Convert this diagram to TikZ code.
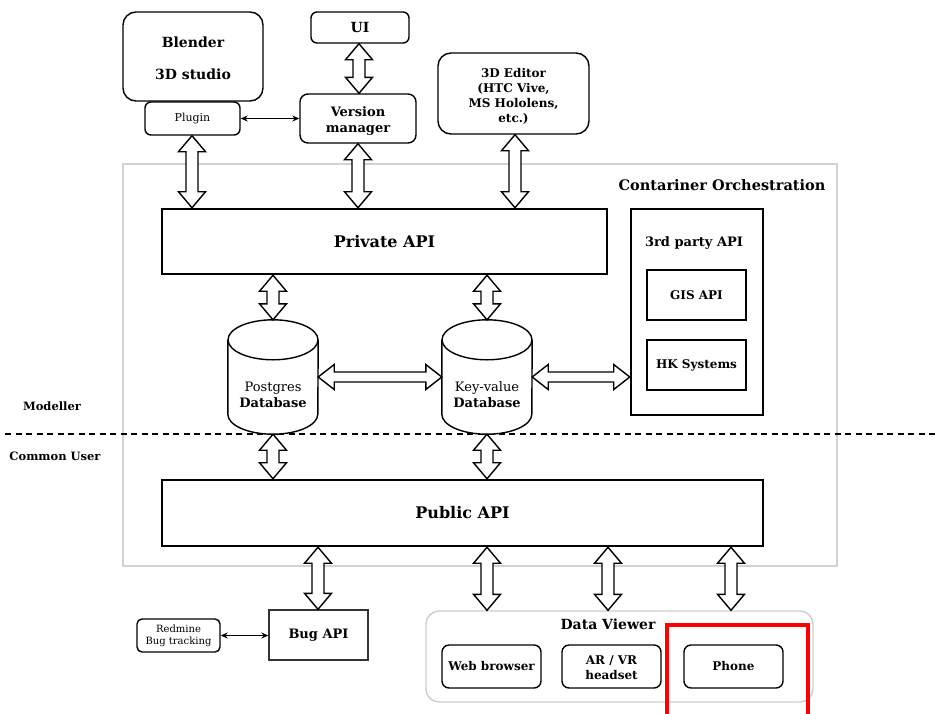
\documentclass[tikz,border=0pt]{standalone}
\usepackage{fontspec}
\setmainfont{DejaVu Serif}
\usetikzlibrary{calc,arrows.meta}

% hollow double-headed vertical arrow: x position, upper node, lower node
\newcommand\fatv[3]{%
  \draw[fat] let \p1=(#2.south), \p2=(#3.north) in
    (#1pt,\y1) -- (#1pt+13.5pt,\y1-16pt) -- (#1pt+6pt,\y1-16pt) --
    (#1pt+6pt,\y2+16pt) -- (#1pt+13.5pt,\y2+16pt) -- (#1pt,\y2) --
    (#1pt-13.5pt,\y2+16pt) -- (#1pt-6pt,\y2+16pt) --
    (#1pt-6pt,\y1-16pt) -- (#1pt-13.5pt,\y1-16pt) -- cycle;}
% hollow double-headed horizontal arrow: left node, right node
\newcommand\fath[2]{%
  \draw[fat] let \p1=(#1.east), \p2=(#2.west) in
    (\x1,\y1) -- (\x1+16pt,\y1+12.5pt) -- (\x1+16pt,\y1+5pt) --
    (\x2-16pt,\y1+5pt) -- (\x2-16pt,\y1+12.5pt) -- (\x2,\y1) --
    (\x2-16pt,\y1-12.5pt) -- (\x2-16pt,\y1-5pt) --
    (\x1+16pt,\y1-5pt) -- (\x1+16pt,\y1-12.5pt) -- cycle;}
% database cylinder drawn around a named node (width 90, height 114)
\newcommand\dbcyl[1]{%
  \draw[line width=1.4pt, fill=white]
    ([yshift=-20pt]#1.north west) -- ([yshift=20pt]#1.south west)
    arc[start angle=180, end angle=360, x radius=45pt, y radius=20pt]
    -- ([yshift=-20pt]#1.north east);
  \draw[line width=1.4pt] ([yshift=-20pt]#1.north) ellipse [x radius=45pt, y radius=20pt];}

\begin{document}
\begin{tikzpicture}[x=1pt,y=-1pt,
  box/.style={draw, line width=1.4pt, align=center, inner sep=1pt},
  rbox/.style={box, rounded corners=#1},
  heavy/.style={draw, line width=2.5pt, align=center, inner sep=1pt},
  fat/.style={draw, fill=white, line width=1.4pt, line join=miter},
  thinarrow/.style={line width=0.9pt, {Stealth[length=7pt,width=6pt]}-{Stealth[length=7pt,width=6pt]}},
  plain/.style={align=center, inner sep=0pt},
  bf/.style={font=\bfseries\fontsize{#1}{#1}\selectfont},
  rm/.style={font=\fontsize{#1}{#1}\selectfont}
]
\useasboundingbox (0,0) rectangle (939,713);

% container orchestration frame
\node[draw=gray!35, line width=1.8pt, minimum width=714, minimum height=402, inner sep=0pt]
  (orch) at (480,365) {};
\node[plain, bf=14.5] (orchlbl) at (722,185) {Contariner Orchestration};

% role separator
\draw[line width=1.4pt, dash pattern=on 6pt off 4.5pt] (5,434) coordinate (sepl) -- (939,434) coordinate (sepr);
\node[plain, bf=11.5] (modeller) at (52,406) {Modeller};
\node[plain, bf=11.5] (common) at (55,456) {Common User};

% modelling clients
\node[rbox=13, minimum width=140, minimum height=89] (blender) at (193,56.5) {};
\node[plain, bf=14] (blendertxt) at (193,58) {Blender\\[18pt]3D studio};
\node[rbox=6, minimum width=95, minimum height=33, rm=11] (plugin) at (192.5,118.5) {Plugin};
\node[rbox=6, minimum width=98, minimum height=31, bf=14] (ui) at (360,27.5) {UI};
\node[rbox=8, minimum width=116, minimum height=49] (vm) at (358,118.5) {};
\node[plain, font=\bfseries\fontsize{13}{16}\selectfont] (vmtxt) at (358,120.5) {Version\\manager};
\node[rbox=13, minimum width=151, minimum height=81] (ed) at (513.5,93.5) {};
\node[plain, font=\bfseries\fontsize{12}{15}\selectfont] (edtxt) at (513.5,96.5) {3D Editor\\(HTC Vive,\\MS Hololens,\\etc.)};

% services
\node[heavy, minimum width=445, minimum height=65, bf=16] (priv) at (384.5,241.5) {Private API};
\node[heavy, minimum width=132, minimum height=206] (third) at (697,312) {};
\node[plain, bf=13] (thirdlbl) at (694,243) {3rd party API};
\node[heavy, minimum width=99, minimum height=50, bf=12] (gis) at (696.5,295) {GIS API};
\node[heavy, minimum width=99, minimum height=50, bf=12] (hk) at (696.5,365) {HK Systems};

\node[minimum width=90, minimum height=114, inner sep=0pt] (pg) at (273,377) {};
\node[minimum width=90, minimum height=114, inner sep=0pt] (kv) at (487,377) {};
\dbcyl{pg}
\dbcyl{kv}
\node[plain, font=\fontsize{13}{16}\selectfont] (pgtxt) at (273,394.5) {Postgres\\\textbf{Database}};
\node[plain, font=\fontsize{13}{16}\selectfont] (kvtxt) at (487,394.5) {Key-value\\\textbf{Database}};

\node[heavy, minimum width=601, minimum height=66, bf=16] (pub) at (462.5,513) {Public API};

% bug tracking
\node[draw=black!80, line width=1.4pt, minimum width=99, minimum height=50, bf=13] (bug) at (318.5,635) {Bug API};
\node[rbox=5, minimum width=83, minimum height=33, font=\fontsize{10}{12}\selectfont] (redmine) at (178.5,635.5) {Redmine\\Bug tracking};

% data viewer group
\node[draw=gray!40, line width=1.4pt, rounded corners=13, minimum width=387, minimum height=91] (dv) at (619.5,656.5) {};
\node[plain, bf=14] (dvlbl) at (608,624) {Data Viewer};
\node[rbox=7, minimum width=99, minimum height=43, bf=12] (web) at (491.5,666.5) {Web browser};
\node[rbox=7, minimum width=99, minimum height=43] (arvr) at (611.5,666.5) {};
\node[plain, font=\bfseries\fontsize{12}{15}\selectfont] (arvrtxt) at (611.5,667.5) {AR / VR\\headset};
\node[rbox=7, minimum width=99, minimum height=43, bf=12] (phone) at (733.5,666.5) {Phone};

% highlight frame
\draw[red, line width=3.6pt] (667,740) coordinate (hl1) |- (808,625) coordinate (hl2) -- (808,740);

% connectors
\draw[thinarrow] (plugin.east) -- (vm.west |- plugin.east);
\draw[thinarrow] (redmine.east) -- (bug.west |- redmine.east);

\fatv{359}{ui}{vm}
\fatv{192}{plugin}{priv}
\fatv{358}{vm}{priv}
\fatv{515}{ed}{priv}
\fatv{273}{priv}{pg}
\fatv{487}{priv}{kv}
\fath{pg}{kv}
\fath{kv}{third}
\fatv{273}{pg}{pub}
\fatv{487}{kv}{pub}
\fatv{318}{pub}{bug}
\fatv{487}{pub}{dv}
\fatv{608}{pub}{dv}
\fatv{731}{pub}{dv}
\end{tikzpicture}
\end{document}
